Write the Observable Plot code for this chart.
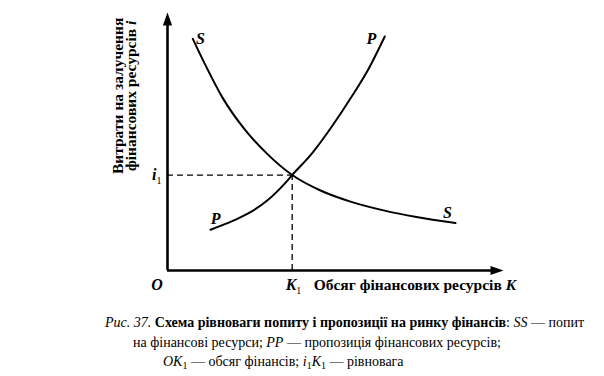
<!DOCTYPE html>
<html><head><meta charset="utf-8">
<script src="https://cdn.jsdelivr.net/npm/d3@7"></script>
<script src="https://cdn.jsdelivr.net/npm/@observablehq/plot@0.6"></script>
<style>
body{margin:0;background:#fff}
#cap{font-family:"Liberation Serif","Times New Roman",serif;font-size:14px;line-height:19.5px;color:#000;width:604px;padding-top:13px;white-space:nowrap}
#cap div{position:relative}
#cap sub{font-size:10px;vertical-align:-3px;line-height:0}
</style>
</head><body><div id="chart"></div>
<div id="cap"><div style="left:105px"><i>Рис. 37.</i> <b>Схема рівноваги попиту і пропозиції на ринку фінансів</b>: <i>SS</i> — попит</div><div style="left:133px">на фінансові ресурси; <i>PP</i> — пропозиція фінансових ресурсів;</div><div style="left:163px"><i>OK</i><sub>1</sub> — обсяг фінансів; <i>i</i><sub>1</sub><i>K</i><sub>1</sub> — рівновага</div></div>
<script>
// Demand curve SS (K, i)
const ssK = [0.753, 1.110, 1.628, 2.321, 2.967, 3.711, 4.554, 5.446, 6.429, 7.411, 8.571];
const ssI = [8.98, 8.01, 6.72, 5.43, 4.52, 3.70, 3.10, 2.67, 2.33, 2.07, 1.84];
// Supply curve PP (K, i)
const ppK = [1.280, 1.973, 2.470, 2.967, 3.461, 3.711, 4.307, 4.902, 5.497, 5.991, 6.467];
const ppI = [1.58, 1.94, 2.26, 2.71, 3.33, 3.70, 4.55, 5.60, 6.77, 7.83, 9.07];
// Equilibrium
const K1 = 3.711, i1 = 3.70;
// Axis extent
const axisMax = 10;
// Curve end labels
const labelText = ["S", "P", "P", "S"];
const labelK = [0.98, 6.07, 1.43, 8.33];
const labelI = [8.99, 8.99, 2.02, 2.25];

const ss = ssK.map((k, j) => ({k, i: ssI[j]}));
const pp = ppK.map((k, j) => ({k, i: ppI[j]}));
const labels = labelText.map((t, j) => ({t, k: labelK[j], i: labelI[j]}));
const arrows = [{k: 0, i: axisMax, rot: 0}, {k: axisMax, i: 0, rot: 90}];

const FONT = "Liberation Serif";
const tri = {draw(ctx, l) { ctx.moveTo(0, -l); ctx.lineTo(-4.6, 0); ctx.lineTo(4.6, 0); ctx.closePath(); }};

function rich(g, x, y, parts, opts = {}) {
  const t = g.append("text").attr("x", x).attr("y", y)
    .attr("font-family", FONT).attr("font-size", opts.size || 16)
    .attr("text-anchor", opts.anchor || "start").attr("fill", "black");
  if (opts.rotate) t.attr("transform", `rotate(${opts.rotate},${x},${y})`);
  for (const p of parts) {
    const s = t.append("tspan").text(p.t);
    if (p.b) s.attr("font-weight", "bold");
    if (p.it) s.attr("font-style", "italic");
    if (p.sub) s.attr("font-size", 10).attr("dy", 4);
  }
  return t;
}

const texts = (index, scales) => {
  const g = d3.create("svg:g");
  const x = scales.x, y = scales.y;
  const x0 = x(0), y0 = y(0);
  rich(g, x0 - 10, y0 + 20, [{t: "O", it: true, b: true}], {anchor: "middle"});
  rich(g, x(K1) - 6, y0 + 20, [{t: "K", it: true, b: true}, {t: "1", sub: true}]);
  rich(g, x0 - 15, y(i1) + 5, [{t: "i", it: true, b: true}, {t: "1", sub: true}]);
  rich(g, x(K1) + 22, y0 + 20, [{t: "Обсяг фінансових ресурсів ", b: true}, {t: "K", b: true, it: true}], {size: 15.5});
  const yc = y(6.75);
  rich(g, x0 - 44, yc, [{t: "Витрати на залучення", b: true}], {size: 15.5, anchor: "middle", rotate: -90});
  rich(g, x0 - 31, yc, [{t: "фінансових ресурсів ", b: true}, {t: "i", b: true, it: true}], {size: 15.5, anchor: "middle", rotate: -90});
  return g.node();
};

const chart = Plot.plot({
  width: 604, height: 300,
  marginLeft: 167, marginRight: 101, marginTop: 12, marginBottom: 30,
  x: {domain: [0, axisMax], axis: null},
  y: {domain: [0, axisMax], axis: null},
  marks: [
    Plot.ruleY([i1], {x1: 0, x2: K1, stroke: "black", strokeWidth: 1.3, strokeDasharray: "6,4"}),
    Plot.ruleX([K1], {y1: 0, y2: i1, stroke: "black", strokeWidth: 1.3, strokeDasharray: "6,4"}),
    Plot.line(ss, {x: "k", y: "i", curve: "monotone-x", stroke: "black", strokeWidth: 2}),
    Plot.line(pp, {x: "k", y: "i", curve: "monotone-x", stroke: "black", strokeWidth: 2}),
    Plot.ruleX([0], {y1: 0, y2: axisMax - 0.3, stroke: "black", strokeWidth: 2.6}),
    Plot.ruleY([0], {x1: 0, x2: axisMax - 0.3, stroke: "black", strokeWidth: 2.6}),
    Plot.vector(arrows, {x: "k", y: "i", rotate: "rot", length: 13, shape: tri, anchor: "end", fill: "black", stroke: "none"}),
    Plot.text(labels, {x: "k", y: "i", text: "t", fontFamily: FONT, fontSize: 16, fontStyle: "italic", fontWeight: "bold", fill: "black"}),
    texts
  ]
});
document.getElementById("chart").appendChild(chart);
</script>
</body></html>
